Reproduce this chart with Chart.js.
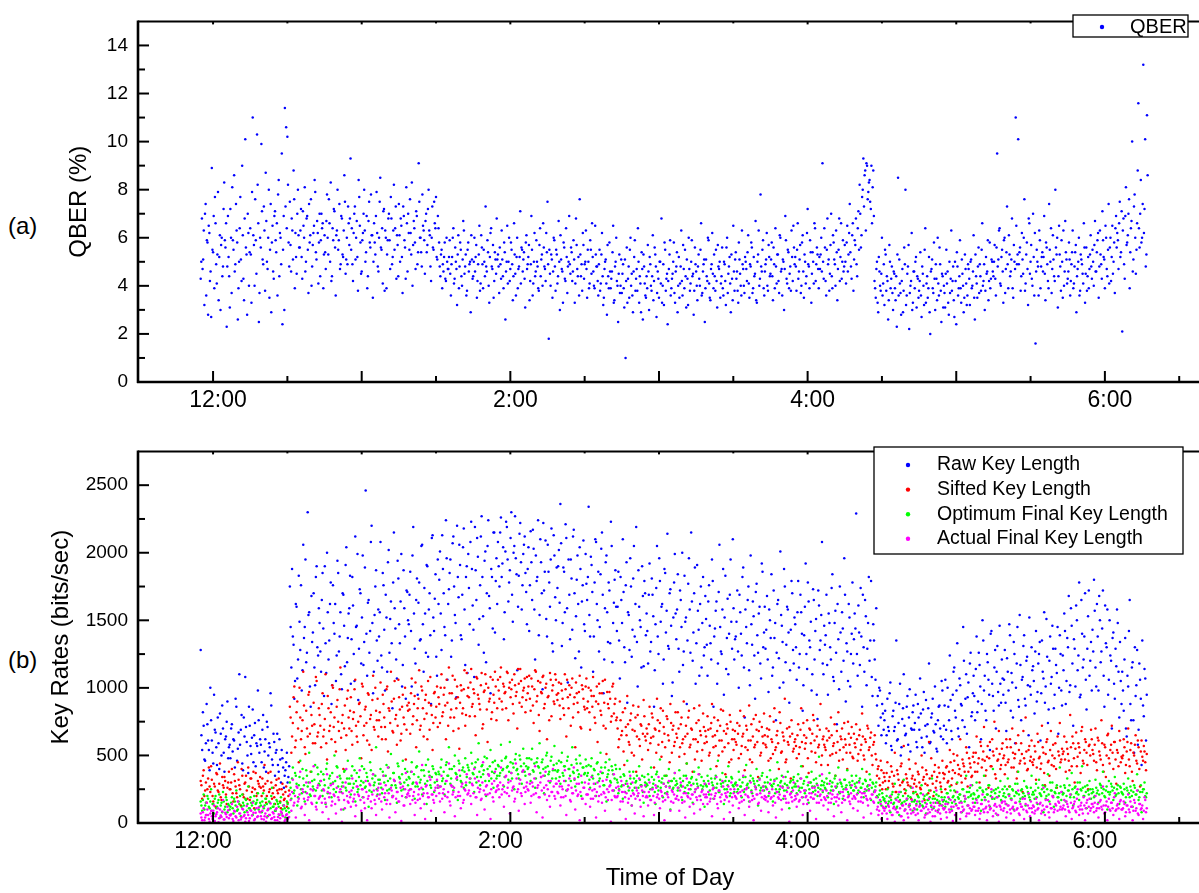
<!DOCTYPE html>
<html>
<head>
<meta charset="utf-8">
<title>QBER and key rates vs time of day</title>
<script src="https://cdn.jsdelivr.net/npm/chart.js@4/dist/chart.umd.min.js"></script>
<style>
  html, body { margin: 0; padding: 0; background: #fff; overflow: hidden; width: 1199px; height: 893px; }
  canvas { position: absolute; left: 0; }
  #chart-a { top: 0; }
  #chart-b { top: 430px; }
  .panel-tag { position: absolute; left: 8px; font: 24px 'Liberation Sans', Arial, sans-serif; line-height: 24px; color: #000; }
</style>
</head>
<body>
<div class="panel-tag" style="top:214px">(a)</div>
<div class="panel-tag" style="top:648px">(b)</div>
<canvas id="chart-a" width="1220" height="430"></canvas>
<canvas id="chart-b" width="1220" height="463"></canvas>

<script>
// time axis: minutes after 12:00
const timeTickValues = [0, 120, 240, 360];
const timeTickLabels = ['12:00', '2:00', '4:00', '6:00'];
const hourMarks = [0, 60, 120, 180, 240, 300, 360];
const halfHourMarks = [30, 90, 150, 210, 270, 330, 390];

const qberTicks = [0, 2, 4, 6, 8, 10, 12, 14];
const qberMinorTicks = [1, 3, 5, 7, 9, 11, 13];
const rateTicks = [0, 500, 1000, 1500, 2000, 2500];
const rateMinorTicks = [250, 750, 1250, 1750, 2250];

// samples are taken at a fixed interval starting just before noon;
// the "B" lists are the readings taken half an interval later
const sampleStartMin = -5;
const qberStepMin = 0.5;
const keyStepMin = 0.6;

// QBER (%)
const qberValues = [
  4.3, 6.8, 5.1, 3.2, 7.4, 5.9, 2.8, 6.2, 4.6, 8.9, 5.4, 3.9, 6.6, 4.1, 7.9, 5.2, 3.0, 6.0, 4.8, 8.3,
  5.6, 2.3, 6.9, 4.4, 7.2, 3.7, 5.9, 8.6, 4.9, 6.3, 2.6, 5.0, 7.7, 4.2, 6.1, 3.4, 10.1, 5.3, 7.0, 4.0,
  6.4, 3.3, 11.0, 5.7, 7.6, 4.5, 8.2, 2.5, 6.0, 9.9, 5.1, 7.3, 3.8, 6.7, 4.7, 8.0, 5.5, 2.9, 6.5, 4.3,
  7.1, 5.4, 3.6, 8.4, 6.2, 4.9, 2.4, 6.9, 11.4, 10.6, 10.2, 5.8, 7.5, 4.6, 6.3, 8.8, 3.9, 5.2, 7.0, 6.1,
  5.6, 7.2, 4.3, 6.5, 8.1, 5.0, 6.9, 3.7, 5.8, 7.6, 4.8, 6.2, 8.4, 5.4, 6.7, 4.1, 7.0, 5.9, 6.4, 3.9,
  6.1, 4.7, 7.8, 5.3, 6.6, 8.3, 4.4, 5.9, 7.1, 3.6, 6.3, 5.5, 7.4, 4.9, 6.8, 5.2, 8.6, 4.5, 6.0, 7.3,
  5.7, 9.3, 6.4, 4.2, 7.0, 5.1, 6.7, 3.8, 7.7, 5.8, 4.6, 6.2, 8.0, 5.0, 6.9, 4.4, 7.5, 5.6, 6.1, 3.5,
  6.6, 5.3, 7.9, 4.8, 6.0, 8.5, 5.5, 4.1, 7.2, 6.3, 3.9, 5.9, 7.0, 4.7, 6.8, 5.2, 8.2, 6.4, 4.3, 5.7,
  7.4, 5.0, 6.5, 3.7, 6.9, 5.6, 8.1, 4.6, 6.2, 7.6, 5.3, 4.0, 6.7, 5.8, 7.1, 4.9, 9.1, 6.0, 5.4, 7.8,
  6.3, 4.5, 7.0, 5.7, 8.0, 6.1, 4.2, 7.3, 5.5, 6.6, 7.7, 5.1, 6.4, 4.8, 5.3, 3.9, 4.6, 5.8, 4.2, 5.0,
  4.7, 5.9, 3.6, 5.2, 6.4, 4.3, 5.0, 3.2, 6.1, 4.8, 5.5, 4.0, 6.7, 4.5, 5.3, 3.8, 5.8, 4.9, 2.9, 5.1,
  4.4, 6.0, 5.2, 3.5, 4.9, 6.5, 4.1, 5.6, 3.9, 5.0, 7.3, 4.6, 5.4, 3.3, 6.2, 4.8, 5.7, 4.2, 5.1, 6.8,
  5.3, 3.7, 4.9, 6.3, 4.4, 5.8, 2.6, 5.0, 4.1, 6.0, 4.7, 5.5, 3.4, 6.6, 4.5, 5.2, 3.9, 4.8, 7.1, 5.6,
  4.6, 5.4, 3.1, 6.1, 4.9, 5.7, 4.2, 6.9, 3.6, 5.0, 4.4, 5.9, 4.8, 3.8, 6.4, 5.1, 4.0, 5.6, 4.7, 6.2,
  7.5, 1.8, 4.5, 5.3, 3.5, 6.0, 4.8, 5.5, 4.1, 6.7, 3.0, 5.1, 4.6, 5.8, 4.3, 6.4, 3.7, 5.0, 4.9, 5.6,
  4.2, 5.9, 3.3, 6.8, 4.7, 5.2, 7.6, 4.4, 3.8, 5.7, 4.9, 6.3, 3.5, 5.0, 4.1, 5.5, 6.6, 4.6, 3.9, 5.3,
  4.8, 3.6, 5.5, 4.1, 6.2, 3.2, 4.7, 5.1, 2.8, 4.4, 5.8, 3.9, 4.6, 6.5, 3.4, 5.0, 4.2, 2.5, 5.3, 4.0,
  3.7, 4.9, 3.1, 1.0, 5.6, 4.3, 3.5, 6.0, 4.5, 2.9, 5.2, 3.8, 4.7, 6.4, 3.3, 4.1, 5.4, 2.6, 4.8, 3.6,
  4.4, 5.7, 3.0, 4.9, 3.8, 6.1, 4.2, 5.3, 2.7, 4.6, 3.5, 5.0, 6.8, 4.0, 3.2, 5.5, 4.3, 2.4, 4.7, 5.9,
  3.9, 4.5, 5.8, 3.3, 4.8, 2.9, 5.2, 4.1, 6.3, 3.6, 4.7, 5.5, 3.1, 4.3, 6.0, 3.8, 5.0, 4.4, 2.8, 5.6,
  4.6, 3.4, 5.3, 4.0, 6.6, 3.7, 4.9, 2.5, 5.1, 4.2, 5.9, 3.5, 4.7, 6.2, 3.9, 4.4, 5.5, 3.1, 4.8, 5.0,
  4.1, 5.6, 3.6, 4.9, 3.2, 6.0, 4.5, 5.2, 2.9, 4.3, 6.5, 3.8, 5.4, 4.6, 3.3, 5.1, 4.0, 6.3, 4.7, 3.7,
  5.0, 4.2, 6.1, 3.5, 4.8, 5.6, 3.9, 4.4, 6.7, 3.3, 5.3, 4.0, 7.8, 4.6, 5.9, 3.6, 4.9, 6.2, 3.8, 5.2,
  4.5, 5.8, 3.4, 4.9, 6.4, 4.1, 5.3, 3.7, 6.0, 4.7, 5.1, 3.0, 6.9, 4.3, 5.5, 3.9, 4.8, 6.3, 4.2, 5.6,
  5.2, 3.8, 6.6, 4.6, 5.7, 4.0, 6.1, 3.5, 5.0, 4.4, 7.2, 4.8, 5.9, 3.3, 5.4, 4.1, 6.4, 4.9, 5.3, 3.9,
  4.7, 6.0, 9.1, 4.3, 5.6, 3.6, 6.8, 5.1, 4.5, 7.0, 3.9, 5.8, 4.9, 6.3, 3.4, 5.5, 4.2, 6.6, 5.0, 4.6,
  5.7, 4.1, 6.5, 5.3, 7.4, 4.8, 6.1, 3.8, 5.9, 6.8, 4.4, 7.1, 8.2, 5.6, 7.7, 9.3, 8.6, 6.3, 9.0, 7.9,
  8.4, 7.2, 6.6, 8.8, 4.2, 3.5, 5.0, 2.9, 4.6, 3.8, 6.0, 4.1, 3.2, 5.3, 4.4, 2.6, 5.7, 3.9, 4.8, 3.0,
  4.5, 3.4, 2.3, 8.5, 5.1, 3.7, 4.2, 2.9, 5.6, 8.0, 3.6, 4.8, 2.2, 4.0, 6.2, 3.3, 4.6, 5.0, 3.1, 4.3,
  3.8, 5.4, 2.7, 4.5, 3.2, 6.4, 4.1, 3.5, 5.2, 2.0, 4.7, 3.9, 5.8, 3.0, 4.3, 6.0, 3.6, 4.9, 2.5, 4.4,
  4.0, 3.1, 5.5, 4.6, 2.8, 3.7, 6.3, 4.2, 3.4, 5.0, 2.4, 4.8, 3.9, 5.9, 3.3, 4.5, 2.9, 5.3, 4.1, 3.6,
  4.7, 3.2, 5.1, 4.0, 6.1, 2.6, 4.4, 3.5, 5.6, 4.9, 3.8, 6.6, 4.2, 3.0, 5.2, 4.6, 3.4, 5.8, 4.3, 5.0,
  4.4, 5.7, 3.6, 9.5, 5.1, 6.4, 4.0, 5.5, 3.3, 6.0, 4.7, 7.3, 3.9, 5.3, 4.6, 6.8, 3.5, 5.0, 11.0, 4.9,
  10.1, 5.4, 3.8, 6.2, 4.5, 7.6, 4.1, 5.8, 3.2, 6.6, 5.0, 4.3, 7.0, 3.6, 1.6, 5.5, 4.8, 6.3, 3.9, 5.2,
  4.6, 6.9, 3.4, 5.6, 4.2, 7.4, 5.0, 3.7, 6.1, 4.4, 8.0, 5.3, 3.1, 6.5, 4.8, 5.9, 3.5, 4.0, 6.7, 5.1,
  4.3, 5.8, 3.6, 4.9, 6.3, 4.1, 5.4, 2.9, 4.7, 6.0, 3.8, 5.1, 4.5, 6.6, 3.3, 5.6, 4.4, 3.9, 5.3, 4.8,
  5.5, 4.0, 6.7, 4.6, 5.9, 3.5, 6.3, 4.9, 7.1, 5.2, 3.9, 6.0, 4.4, 7.4, 5.6, 4.2, 6.5, 5.0, 3.7, 6.9,
  6.2, 4.7, 7.5, 5.4, 2.1, 6.8, 4.3, 8.1, 5.8, 7.0, 3.9, 6.4, 10.0, 5.1, 7.8, 4.5, 6.6, 11.6, 5.6, 8.4,
  6.0, 13.2, 7.2, 4.8, 11.1
];

const qberValuesB = [
  5.0, 4.7, 6.3, 7.0, 3.6, 5.8, 6.5, 4.2, 2.7, 5.5, 6.9, 7.7, 4.9, 5.3, 3.4, 6.1, 5.7, 4.4, 7.2, 5.9,
  6.6, 4.8, 5.2, 3.1, 6.0, 8.1, 5.5, 4.6, 7.4, 5.8, 3.9, 6.4, 5.1, 9.0, 4.3, 6.8, 5.6, 2.8, 6.2, 5.4,
  5.3, 7.9, 6.1, 4.0, 5.9, 10.3, 6.6, 3.7, 5.6, 7.1, 4.9, 6.3, 8.7, 5.0, 6.0, 3.5, 7.4, 5.8, 4.6, 6.9,
  5.9, 6.6, 7.8, 4.4, 6.0, 9.5, 5.5, 3.0, 7.3, 6.4, 8.2, 4.8, 5.7, 6.8, 5.1, 7.6, 6.2, 4.5, 8.0, 5.6,
  6.3, 5.2, 7.1, 6.0, 4.6, 6.8, 5.5, 7.4, 6.1, 4.0, 5.7, 6.5, 7.9, 5.1, 6.2, 5.8, 4.4, 7.0, 6.6, 5.3,
  5.4, 6.7, 6.0, 7.6, 5.0, 4.2, 6.4, 7.2, 5.6, 6.1, 8.0, 5.9, 4.7, 6.9, 5.3, 6.3, 7.5, 5.1, 4.9, 6.6,
  6.8, 5.5, 4.9, 6.2, 7.3, 6.0, 5.2, 8.4, 6.5, 4.5, 5.9, 7.0, 6.3, 5.4, 3.9, 6.7, 5.8, 7.8, 6.1, 5.0,
  5.8, 6.9, 6.2, 4.6, 7.5, 5.6, 6.4, 7.1, 3.8, 6.0, 5.3, 6.8, 5.9, 7.7, 4.9, 6.3, 5.5, 7.3, 6.1, 4.4,
  6.1, 6.8, 5.2, 7.3, 5.9, 4.3, 6.6, 7.0, 5.5, 6.2, 8.3, 5.7, 6.4, 4.7, 6.9, 5.4, 7.5, 6.0, 4.8, 6.5,
  5.9, 6.7, 5.4, 7.2, 6.3, 4.8, 6.0, 5.6, 7.5, 6.4, 5.2, 6.9, 5.8, 4.4, 5.5, 4.9, 5.2, 4.3, 6.0, 4.7,
  5.2, 4.5, 4.9, 6.0, 4.1, 5.6, 4.7, 5.3, 3.9, 5.8, 4.4, 5.1, 6.3, 4.8, 3.6, 5.5, 4.6, 5.0, 6.1, 4.3,
  5.0, 4.6, 5.7, 4.2, 5.3, 3.8, 6.1, 4.9, 5.5, 4.4, 4.8, 5.9, 4.0, 5.2, 6.4, 4.7, 3.5, 5.4, 4.5, 5.1,
  4.8, 5.6, 4.3, 5.1, 3.9, 5.4, 4.6, 6.5, 5.0, 4.2, 5.8, 4.9, 4.4, 5.3, 3.6, 6.0, 4.7, 5.2, 4.1, 5.5,
  5.1, 4.3, 5.8, 4.7, 5.2, 3.4, 4.9, 5.5, 4.1, 6.2, 4.6, 5.0, 3.9, 5.7, 4.4, 5.3, 6.6, 4.8, 4.2, 5.4,
  4.9, 5.5, 4.0, 5.1, 4.6, 5.9, 3.8, 5.3, 4.4, 5.0, 6.1, 4.7, 3.3, 5.6, 4.2, 5.2, 4.8, 6.9, 4.5, 5.4,
  4.6, 5.1, 4.1, 5.7, 4.4, 3.6, 5.3, 4.9, 6.2, 4.3, 5.0, 4.7, 5.5, 3.9, 5.9, 4.5, 5.2, 4.0, 6.5, 4.8,
  4.2, 4.9, 3.8, 5.3, 4.4, 3.5, 5.0, 4.1, 5.7, 3.9, 4.6, 4.3, 5.4, 3.3, 4.8, 6.0, 4.0, 4.5, 3.7, 5.1,
  4.5, 3.9, 5.1, 4.2, 3.3, 4.8, 5.5, 4.0, 3.6, 4.6, 5.9, 4.3, 3.8, 5.0, 4.4, 2.9, 4.7, 5.3, 4.1, 3.5,
  3.9, 4.6, 5.2, 4.0, 4.4, 3.4, 5.6, 4.8, 3.7, 4.3, 5.0, 4.1, 3.3, 4.9, 5.8, 3.8, 4.5, 4.2, 5.3, 3.6,
  4.3, 5.0, 3.7, 4.6, 5.4, 4.0, 3.5, 4.8, 4.2, 5.7, 3.9, 4.4, 5.1, 3.2, 4.7, 4.1, 5.9, 4.5, 3.8, 4.9,
  4.0, 4.8, 4.3, 5.5, 3.6, 4.6, 5.1, 3.9, 4.4, 6.0, 4.1, 3.4, 4.9, 4.5, 5.3, 3.8, 4.2, 5.7, 4.7, 3.5,
  4.4, 3.9, 5.0, 4.2, 5.6, 3.7, 4.8, 4.1, 5.3, 3.4, 4.6, 5.1, 4.3, 3.8, 5.8, 4.5, 3.6, 4.9, 4.0, 5.2,
  4.7, 5.4, 4.1, 4.9, 5.8, 3.7, 5.2, 4.5, 3.4, 5.0, 6.3, 4.3, 4.8, 5.5, 3.9, 4.6, 5.1, 4.0, 5.7, 4.4,
  5.1, 4.4, 5.6, 3.9, 4.8, 5.3, 4.2, 6.1, 4.6, 3.6, 5.0, 4.7, 5.9, 4.1, 5.4, 4.5, 3.8, 5.2, 6.5, 4.9,
  4.8, 5.5, 4.3, 5.1, 3.7, 5.8, 4.6, 5.3, 4.1, 6.2, 4.9, 3.9, 5.4, 4.5, 5.0, 6.6, 4.2, 5.6, 4.7, 5.2,
  5.3, 4.6, 5.0, 6.4, 4.2, 5.5, 4.9, 3.8, 5.7, 4.4, 6.1, 5.1, 4.0, 5.4, 4.7, 6.8, 5.2, 4.3, 5.9, 4.8,
  5.0, 5.8, 4.6, 6.2, 5.4, 4.3, 6.6, 5.1, 5.7, 4.9, 6.4, 5.5, 7.0, 6.1, 8.0, 7.3, 8.8, 9.1, 7.6, 8.3,
  7.5, 9.0, 8.1, 6.9, 3.9, 4.7, 3.3, 5.2, 4.0, 4.5, 3.6, 4.9, 5.5, 3.8, 4.2, 3.4, 5.0, 4.3, 3.7, 4.6,
  3.9, 4.4, 5.3, 3.6, 4.1, 2.8, 4.7, 3.8, 4.9, 3.2, 4.5, 5.7, 3.7, 4.2, 3.0, 4.6, 3.9, 5.2, 4.4, 3.5,
  4.2, 3.6, 4.8, 4.0, 5.5, 3.3, 4.4, 3.9, 2.9, 4.6, 5.1, 3.7, 4.3, 4.9, 3.4, 4.1, 5.6, 3.8, 4.5, 3.1,
  3.7, 4.5, 4.1, 3.3, 5.0, 4.3, 3.8, 4.8, 2.7, 4.2, 5.4, 3.6, 4.4, 3.9, 5.1, 4.0, 3.5, 4.7, 3.2, 4.9,
  4.3, 5.0, 3.9, 4.6, 3.5, 5.3, 4.1, 4.8, 3.7, 4.4, 5.5, 4.0, 4.9, 3.8, 4.5, 5.9, 4.2, 3.9, 5.1, 4.6,
  5.0, 4.3, 5.6, 4.8, 6.3, 4.1, 5.2, 4.6, 5.9, 3.7, 5.4, 4.9, 6.1, 4.4, 5.1, 3.9, 5.7, 4.7, 6.5, 5.3,
  4.9, 5.6, 4.4, 5.1, 6.0, 3.8, 5.3, 4.7, 6.8, 4.5, 5.7, 4.0, 5.2, 6.2, 4.6, 5.0, 3.6, 5.9, 4.8, 5.4,
  5.2, 4.5, 5.8, 4.9, 3.9, 5.5, 6.4, 4.7, 5.1, 4.2, 5.6, 6.0, 4.4, 5.3, 3.8, 5.0, 6.3, 4.6, 5.4, 4.1,
  4.6, 5.1, 4.2, 5.4, 3.9, 4.8, 5.7, 4.4, 5.0, 3.6, 5.3, 4.9, 4.1, 5.6, 4.5, 3.8, 5.2, 4.7, 6.1, 4.3,
  5.0, 5.7, 4.6, 5.4, 6.2, 4.8, 5.3, 4.3, 5.9, 5.1, 6.5, 4.7, 5.5, 4.1, 6.0, 5.2, 4.5, 5.8, 6.4, 5.6,
  5.9, 6.6, 5.2, 7.1, 6.3, 4.9, 6.9, 5.7, 6.1, 7.6, 5.4, 6.7, 4.6, 7.3, 6.0, 5.5, 8.8, 6.4, 7.0, 5.8,
  7.4, 6.2, 10.1, 5.3, 8.6
];

// key lengths (bits/sec)
const rawKey = [
  1280, 540, 720, 460, 880, 610, 390, 760, 520, 950, 670, 430, 590, 810, 500, 700, 380, 640, 900, 560,
  480, 730, 620, 410, 860, 550, 1100, 690, 440, 780, 1080, 600, 370, 720, 510, 840, 650, 420, 570, 760,
  620, 450, 800, 530, 380, 710, 590, 960, 470, 660, 350, 540, 430, 620, 300, 480, 260, 390, 520, 340,
  1750, 1150, 1380, 920, 1620, 1070, 1830, 1280, 980, 2060, 1450, 1190, 2300, 1560, 860, 1340, 1700, 1020, 1900, 1240,
  1480, 1120, 1850, 940, 1330, 2000, 1210, 1620, 880, 1760, 1400, 1050, 1940, 1270, 1560, 990, 1690, 1160, 2040, 1370,
  1590, 1030, 1820, 1250, 2120, 1460, 910, 1730, 1180, 1980, 1340, 2460, 1090, 1650, 1420, 2200, 960, 1540, 1870, 1200,
  1380, 2080, 1150, 1760, 980, 1520, 1930, 1260, 1640, 850, 2150, 1440, 1070, 1810, 1330, 1990, 1170, 1590, 920, 1710,
  1470, 1860, 1010, 2190, 1290, 1650, 950, 1780, 1360, 2060, 1120, 1550, 1910, 1230, 1700, 880, 2130, 1420, 1840, 1090,
  1620, 2010, 1280, 1880, 1450, 2240, 1060, 1730, 1950, 1350, 2120, 1540, 930, 1820, 2060, 1390, 1690, 2180, 1170, 1900,
  1990, 1470, 2230, 1610, 1080, 1870, 2110, 1320, 1760, 2270, 1530, 1940, 1190, 2050, 1680, 960, 1820, 2150, 1410, 1960,
  2080, 1750, 2260, 1920, 1360, 2010, 2190, 1640, 1870, 2300, 1490, 2050, 1960, 1130, 1830, 2220, 1580, 1990, 2120, 1710,
  1880, 1420, 2160, 1650, 2030, 1210, 1790, 2240, 1540, 1930, 990, 1720, 2090, 1380, 1860, 1600, 2180, 1270, 1980, 1500,
  1740, 2020, 2360, 1310, 1890, 1560, 2110, 1040, 1690, 1950, 1430, 2170, 1220, 1800, 1620, 2040, 1150, 1760, 1470, 1990,
  1650, 2340, 1380, 1910, 1120, 1780, 2080, 1500, 1270, 1840, 2150, 960, 1590, 1980, 1340, 1720, 2230, 1190, 1630, 1870,
  1420, 1860, 1070, 1650, 2100, 1300, 1760, 890, 1540, 1960, 1230, 1810, 1380, 2190, 1010, 1600, 1450, 1900, 1160, 1700,
  1550, 1180, 1920, 1340, 1690, 860, 1470, 2050, 1250, 1790, 1600, 1030, 1880, 1410, 2140, 1290, 1730, 940, 1520, 1990,
  1360, 1840, 1120, 1650, 2000, 1270, 1490, 880, 1770, 1580, 2150, 1200, 1700, 1030, 1910, 1430, 1620, 1150, 1820, 1300,
  1510, 1090, 1760, 1330, 1950, 860, 1440, 1640, 1180, 2060, 1270, 1580, 950, 1830, 1370, 1100, 1690, 1490, 2100, 1210,
  1380, 1720, 1000, 1560, 1240, 1890, 780, 1450, 1650, 1130, 1980, 1320, 1530, 920, 1770, 1260, 1600, 1070, 1860, 1410,
  1290, 1680, 970, 1500, 1840, 1150, 1370, 760, 1620, 1220, 2010, 1460, 1040, 1750, 1320, 1580, 890, 1430, 1700, 1180,
  1470, 1060, 1790, 1250, 1560, 830, 1390, 1920, 1140, 1640, 1300, 980, 1730, 1210, 1510, 770, 1610, 1350, 2080, 1100,
  1320, 1690, 950, 1480, 1210, 1840, 1050, 1570, 730, 1360, 1750, 1120, 1440, 1960, 900, 1270, 1620, 1010, 1400, 1180,
  1550, 2290, 1090, 1410, 1740, 860, 1300, 1650, 1020, 1480, 1200, 1790, 940, 1350, 1060, 870, 720, 980, 650, 810,
  760, 590, 920, 680, 1040, 540, 830, 710, 1350, 620, 880, 500, 770, 1100, 650, 860, 580, 990, 700, 820,
  690, 950, 560, 780, 1070, 630, 840, 520, 910, 730, 1180, 600, 810, 680, 1010, 550, 760, 870, 640, 980,
  720, 1060, 590, 860, 1240, 680, 950, 1150, 780, 1330, 640, 1020, 870, 1450, 710, 1100, 930, 560, 1260, 820,
  1090, 760, 1380, 900, 1170, 620, 1500, 980, 830, 1250, 1060, 540, 1420, 940, 1150, 700, 1310, 870, 1030, 1210,
  950, 1280, 680, 1120, 1470, 830, 1040, 1340, 590, 1180, 910, 1540, 760, 1080, 1390, 870, 1230, 650, 1010, 1300,
  1160, 810, 1420, 970, 1250, 610, 1350, 1070, 890, 1510, 740, 1200, 1030, 1460, 850, 1290, 1110, 660, 1390, 980,
  1240, 1550, 880, 1370, 1680, 1020, 1460, 720, 1290, 1610, 1130, 1780, 950, 1400, 1210, 1700, 840, 1530, 1090, 1340,
  1430, 1800, 1150, 1620, 980, 1500, 1270, 1720, 860, 1330, 1580, 1060, 1240, 700, 1410, 920, 1160, 1480, 780, 1050,
  1120, 830, 1370, 640, 1010, 1650, 760, 1190, 520, 940, 1280, 690, 1060, 430, 870, 1140, 610
];

const rawKeyB = [
  650, 820, 470, 590, 730, 540, 1000, 610, 440, 690, 560, 780, 400, 660, 870, 520, 620, 750, 480, 580,
  700, 530, 610, 920, 460, 670, 580, 800, 390, 640, 710, 500, 860, 570, 630, 450, 740, 590, 980, 520,
  580, 690, 410, 620, 750, 500, 560, 870, 430, 600, 520, 660, 380, 470, 540, 410, 350, 450, 300, 420,
  1450, 1880, 1320, 1050, 1600, 1210, 1490, 1760, 1130, 1370, 1950, 1260, 1540, 1010, 1680, 1410, 1150, 1820, 1300, 1590,
  1270, 1650, 1440, 1900, 1110, 1560, 1350, 1780, 1020, 1480, 1620, 1240, 1850, 1380, 1100, 1700, 1460, 1910, 1190, 1550,
  1830, 1360, 1610, 1050, 1450, 1990, 1290, 1700, 1520, 1170, 1890, 1400, 1630, 1260, 2080, 1480, 1120, 1750, 1350, 1580,
  1560, 1240, 1850, 1430, 1690, 1120, 2020, 1510, 1330, 1780, 1590, 1210, 1940, 1470, 1640, 1010, 1870, 1380, 1720, 1500,
  1690, 1420, 1980, 1550, 1180, 1810, 1630, 1350, 2050, 1470, 1740, 1260, 1900, 1580, 1390, 2110, 1520, 1660, 1230, 1950,
  1800, 1550, 2130, 1700, 1390, 1960, 1620, 1850, 1230, 2070, 1750, 1480, 2200, 1670, 1910, 1360, 2040, 1580, 1820, 1110,
  1740, 2080, 1880, 1430, 2190, 1650, 1970, 1510, 2120, 1820, 1260, 2010, 1700, 2240, 1590, 1880, 1440, 2150, 1790, 1620,
  1900, 2150, 1820, 2040, 1560, 2230, 1950, 1780, 2110, 1690, 2000, 2270, 1840, 1600, 2140, 1930, 1760, 2060, 1850, 1470,
  2040, 1760, 1930, 2170, 1580, 1980, 1820, 1390, 2100, 1700, 2220, 1860, 1510, 2060, 1780, 1950, 1330, 2130, 1670, 1890,
  1900, 1630, 2070, 1480, 1860, 2210, 1590, 1950, 1360, 1810, 2120, 1700, 1530, 1980, 1270, 1880, 1640, 2090, 1420, 1770,
  1820, 1540, 1970, 1710, 1380, 2100, 1620, 1860, 1450, 2030, 1690, 1210, 1930, 1560, 1780, 1330, 2050, 1480, 1800, 1600,
  1600, 1350, 1820, 1480, 1710, 1190, 1930, 1560, 1280, 1750, 1430, 2050, 1620, 1340, 1870, 1500, 1150, 1680, 1790, 1390,
  1420, 1690, 1270, 1810, 1530, 1130, 1740, 1380, 1960, 1490, 1620, 1210, 1850, 1570, 1310, 1700, 1460, 1040, 1780, 1550,
  1580, 1290, 1720, 1450, 1170, 1830, 1520, 1350, 1960, 1260, 1640, 1410, 1890, 1330, 1570, 1090, 1750, 1480, 1240, 1680,
  1320, 1640, 1460, 1210, 1790, 1380, 1570, 1030, 1710, 1450, 1250, 1880, 1520, 1140, 1660, 1400, 1950, 1290, 1590, 1360,
  1490, 1270, 1690, 1400, 1820, 1150, 1580, 1330, 1750, 1020, 1470, 1640, 1240, 1710, 1390, 1550, 1180, 1920, 1300, 1600,
  1430, 1210, 1580, 1370, 1090, 1720, 1480, 1260, 1650, 1000, 1540, 1340, 1880, 1190, 1600, 1410, 1130, 1790, 1280, 1520,
  1300, 1560, 1150, 1690, 1400, 1020, 1600, 1250, 1780, 1350, 1490, 1100, 1650, 1420, 950, 1720, 1280, 1540, 1180, 1460,
  1390, 1170, 1550, 1300, 1740, 1080, 1480, 1260, 1620, 990, 1410, 1560, 1200, 1690, 1330, 1050, 1520, 1250, 1780, 1360,
  1440, 1250, 1610, 1170, 1380, 1690, 1120, 1530, 1290, 1820, 1350, 1080, 1470, 1210, 1590, 940, 1000, 780, 880, 690,
  830, 650, 710, 960, 570, 790, 680, 890, 610, 740, 1030, 560, 850, 720, 660, 940, 780, 530, 690, 870,
  740, 600, 880, 690, 810, 560, 970, 720, 640, 850, 590, 780, 920, 670, 730, 530, 860, 700, 1050, 620,
  870, 690, 1000, 760, 910, 620, 1120, 830, 980, 700, 1070, 880, 760, 1200, 920, 660, 1040, 1180, 790, 960,
  940, 1140, 820, 1260, 1010, 880, 1350, 1090, 760, 1190, 950, 1400, 1030, 830, 1280, 1120, 970, 1460, 890, 1070,
  1060, 890, 1220, 980, 1390, 1110, 780, 1250, 1000, 1450, 860, 1170, 1060, 1310, 920, 1200, 1020, 1520, 950, 1130,
  1050, 1270, 900, 1180, 1340, 960, 1120, 1560, 1010, 1230, 840, 1380, 1080, 1290, 950, 1170, 1450, 1000, 1250, 870,
  1130, 1420, 1050, 1300, 970, 1590, 1180, 1360, 1010, 1500, 1240, 930, 1650, 1150, 1380, 1060, 1290, 1720, 1200, 980,
  1270, 1570, 1010, 1380, 1680, 1190, 1440, 1090, 1610, 1300, 950, 1500, 1200, 1370, 1030, 1290, 1580, 1120, 1340, 880,
  980, 1210, 700, 1090, 1420, 880, 1150, 760, 1300, 1020, 580, 1180, 920, 1350, 790, 1070, 950
];

const siftedKey = [
  310, 180, 390, 240, 150, 330, 270, 420, 200, 290, 120, 360, 230, 440, 170, 280, 340, 210, 260, 380,
  250, 400, 160, 310, 220, 450, 280, 130, 350, 190, 300, 240, 410, 170, 330, 260, 110, 370, 220, 290,
  340, 200, 270, 430, 150, 310, 230, 380, 180, 260, 140, 320, 220, 250, 110, 290, 170, 230, 120, 200,
  860, 520, 740, 1010, 610, 900, 450, 780, 680, 1120, 560, 830, 640, 970, 380, 720, 890, 590, 1050, 670,
  800, 560, 960, 690, 1100, 470, 850, 720, 620, 1000, 780, 530, 910, 680, 1150, 740, 400, 870, 650, 980,
  700, 930, 580, 820, 1060, 640, 750, 890, 480, 1010, 720, 860, 610, 950, 770, 540, 1090, 690, 830, 920,
  760, 1040, 620, 880, 710, 990, 530, 830, 1120, 680, 920, 770, 580, 1060, 840, 660, 950, 730, 470, 870,
  890, 660, 1070, 790, 940, 560, 850, 1130, 720, 980, 640, 910, 810, 1050, 690, 870, 540, 960, 780, 1010,
  930, 740, 1100, 820, 1000, 620, 890, 1150, 780, 960, 680, 1060, 850, 930, 550, 1020, 810, 990, 720, 1110,
  1000, 790, 1140, 880, 960, 650, 1070, 920, 840, 1110, 730, 980, 1030, 600, 900, 1080, 820, 950, 1120, 760,
  1060, 920, 1150, 840, 1010, 970, 1120, 760, 1040, 990, 880, 1100, 940, 700, 1030, 1140, 860, 980, 1070, 910,
  960, 1090, 830, 1010, 740, 1130, 900, 1050, 680, 970, 1080, 850, 1000, 620, 940, 1110, 790, 1020, 880, 1060,
  910, 1040, 770, 980, 850, 1100, 640, 930, 1020, 720, 1070, 880, 560, 960, 820, 1090, 700, 990, 860, 1010,
  850, 1000, 690, 940, 1080, 780, 900, 600, 1030, 830, 960, 720, 1060, 510, 880, 970, 750, 1010, 810, 920,
  780, 560, 900, 650, 820, 430, 710, 940, 600, 760, 520, 870, 680, 380, 800, 620, 730, 470, 910, 640,
  700, 540, 860, 630, 780, 410, 690, 920, 580, 740, 490, 830, 660, 350, 770, 610, 880, 520, 720, 600,
  660, 820, 490, 730, 590, 900, 640, 440, 780, 560, 700, 380, 850, 620, 530, 760, 680, 460, 810, 590,
  640, 790, 500, 700, 880, 560, 650, 420, 760, 610, 840, 530, 680, 360, 730, 590, 800, 470, 690, 620,
  600, 740, 480, 830, 570, 660, 390, 720, 540, 870, 610, 450, 770, 580, 690, 340, 750, 520, 640, 810,
  580, 700, 460, 790, 620, 510, 850, 560, 680, 400, 740, 530, 640, 920, 470, 600, 710, 330, 660, 550,
  620, 480, 730, 560, 850, 420, 650, 590, 760, 370, 690, 530, 800, 610, 450, 720, 580, 880, 500, 640,
  560, 700, 430, 630, 780, 510, 590, 350, 680, 820, 540, 620, 470, 740, 580, 400, 660, 520, 710, 480,
  590, 730, 460, 650, 540, 810, 500, 620, 380, 700, 560, 670, 430, 600, 510, 350, 420, 280, 390, 300,
  340, 250, 450, 310, 190, 380, 270, 520, 230, 360, 160, 420, 300, 570, 220, 330, 280, 400, 180, 350,
  290, 440, 210, 360, 260, 500, 320, 170, 390, 280, 600, 240, 350, 200, 430, 310, 150, 370, 270, 460,
  330, 250, 420, 310, 540, 280, 390, 460, 230, 500, 360, 620, 300, 440, 380, 560, 270, 480, 410, 350,
  520, 380, 640, 440, 300, 570, 470, 710, 350, 490, 260, 600, 420, 530, 750, 330, 460, 680, 400, 550,
  480, 360, 620, 450, 270, 560, 700, 410, 510, 330, 650, 440, 590, 230, 480, 780, 390, 540, 460, 610,
  430, 570, 320, 660, 480, 400, 720, 520, 280, 600, 450, 350, 680, 500, 420, 590, 260, 530, 740, 470,
  510, 640, 380, 550, 460, 800, 420, 590, 300, 670, 490, 560, 370, 710, 440, 620, 520, 250, 580, 690,
  540, 460, 700, 390, 610, 500, 760, 430, 580, 340, 650, 480, 540, 720, 400, 600, 290, 520, 680, 450,
  480, 620, 370, 530, 700, 420, 590, 310, 500, 650, 440, 560, 270, 610, 460, 530, 390
];

const siftedKeyB = [
  280, 350, 200, 300, 250, 410, 230, 320, 160, 270, 370, 240, 290, 190, 340, 260, 310, 140, 300, 250,
  300, 220, 360, 270, 190, 320, 250, 400, 210, 290, 350, 180, 270, 330, 230, 380, 250, 200, 310, 270,
  260, 330, 240, 290, 200, 370, 250, 300, 220, 190, 280, 240, 330, 160, 250, 210, 180, 270, 150, 240,
  780, 640, 930, 560, 820, 700, 1000, 620, 760, 870, 510, 700, 950, 660, 800, 590, 730, 1080, 640, 850,
  720, 880, 640, 770, 590, 940, 680, 820, 1020, 710, 600, 860, 750, 990, 630, 800, 700, 540, 920, 780,
  830, 680, 770, 990, 720, 600, 880, 790, 1030, 650, 840, 740, 960, 580, 800, 910, 710, 1000, 760, 640,
  820, 710, 950, 780, 620, 1010, 850, 740, 900, 670, 1050, 800, 720, 930, 610, 860, 780, 1000, 690, 830,
  840, 960, 730, 880, 1040, 760, 920, 690, 1010, 850, 770, 950, 620, 890, 1080, 800, 740, 970, 860, 710,
  880, 1000, 790, 950, 870, 1060, 720, 960, 840, 1090, 780, 920, 1010, 700, 890, 980, 850, 1130, 800, 940,
  930, 1040, 860, 990, 790, 1080, 950, 880, 1020, 700, 970, 1100, 840, 1000, 920, 770, 1060, 890, 1010, 850,
  980, 1080, 900, 1030, 960, 850, 1110, 1000, 930, 1060, 810, 1020, 970, 1140, 890, 1050, 930, 1000, 820, 1080,
  1010, 920, 1070, 870, 990, 1120, 940, 800, 1040, 960, 1090, 880, 1030, 930, 760, 1060, 980, 900, 1100, 950,
  960, 870, 1030, 920, 800, 990, 1060, 850, 950, 1000, 780, 930, 1040, 890, 970, 710, 1020, 920, 840, 1070,
  900, 820, 980, 860, 940, 740, 1010, 880, 960, 800, 1050, 890, 700, 970, 850, 920, 790, 1030, 880, 760,
  700, 620, 760, 680, 530, 850, 650, 730, 580, 810, 690, 500, 780, 640, 860, 570, 720, 660, 790, 610,
  660, 730, 590, 810, 640, 700, 520, 760, 680, 850, 600, 710, 560, 790, 650, 450, 740, 690, 570, 820,
  630, 700, 560, 780, 620, 510, 720, 660, 830, 580, 690, 620, 470, 740, 600, 870, 650, 540, 710, 680,
  600, 690, 520, 740, 640, 780, 570, 680, 500, 720, 610, 830, 560, 660, 700, 450, 750, 620, 540, 680,
  580, 660, 720, 510, 640, 790, 560, 690, 610, 470, 730, 640, 560, 800, 600, 680, 500, 710, 590, 650,
  560, 640, 690, 480, 600, 750, 540, 650, 590, 820, 520, 670, 610, 450, 700, 580, 640, 760, 530, 600,
  570, 650, 510, 690, 600, 740, 550, 630, 480, 700, 590, 660, 760, 520, 640, 560, 690, 430, 620, 580,
  540, 610, 680, 500, 650, 570, 730, 520, 600, 460, 640, 700, 560, 620, 520, 750, 580, 630, 490, 660,
  560, 620, 510, 690, 580, 640, 470, 600, 720, 540, 630, 500, 580, 650, 470, 400, 330, 460, 250, 370,
  310, 370, 260, 340, 420, 290, 350, 230, 390, 320, 280, 440, 310, 250, 360, 300, 470, 270, 330, 230,
  320, 270, 380, 300, 250, 410, 340, 290, 360, 220, 330, 480, 290, 380, 260, 340, 410, 300, 230, 370,
  360, 410, 300, 380, 450, 330, 510, 370, 290, 430, 400, 350, 470, 420, 330, 520, 380, 440, 340, 490,
  450, 520, 380, 480, 600, 410, 530, 460, 390, 570, 480, 420, 620, 500, 360, 550, 470, 510, 430, 590,
  500, 430, 560, 470, 620, 410, 520, 480, 590, 380, 540, 460, 510, 680, 440, 530, 400, 570, 490, 450,
  470, 530, 410, 600, 490, 440, 560, 370, 510, 620, 460, 540, 430, 580, 480, 400, 640, 500, 450, 550,
  530, 470, 600, 510, 390, 560, 640, 480, 550, 420, 590, 520, 680, 460, 540, 600, 430, 570, 500, 620,
  510, 580, 450, 630, 530, 470, 590, 380, 560, 500, 660, 440, 580, 520, 600, 470, 540, 420, 610, 490,
  500, 560, 430, 600, 470, 540, 380, 520, 580, 460, 610, 400, 530, 490, 570, 450, 510
];

const optimumKey = [
  160, 90, 210, 130, 60, 180, 110, 250, 140, 70, 200, 120, 170, 40, 150, 230, 100, 190, 80, 130,
  120, 190, 70, 160, 240, 100, 140, 50, 210, 130, 180, 90, 270, 110, 150, 60, 200, 140, 170, 100,
  150, 80, 220, 130, 180, 50, 160, 110, 260, 120, 90, 170, 140, 60, 190, 100, 130, 40, 160, 110,
  300, 180, 410, 240, 350, 130, 280, 460, 220, 330, 160, 390, 270, 520, 200, 310, 250, 430, 150, 360,
  280, 380, 200, 320, 140, 440, 260, 350, 190, 300, 500, 230, 410, 170, 330, 270, 100, 390, 240, 460,
  330, 210, 420, 290, 160, 370, 250, 480, 310, 190, 400, 270, 340, 120, 450, 230, 360, 300, 560, 210,
  290, 400, 220, 350, 170, 430, 310, 250, 510, 200, 370, 280, 150, 420, 330, 240, 460, 300, 190, 380,
  340, 250, 450, 300, 180, 410, 270, 530, 320, 210, 390, 290, 140, 470, 350, 260, 420, 230, 370, 310,
  380, 270, 470, 330, 210, 430, 350, 560, 290, 400, 240, 500, 360, 170, 440, 310, 390, 260, 480, 340,
  410, 300, 520, 370, 230, 450, 340, 590, 280, 420, 360, 490, 200, 400, 310, 540, 380, 260, 460, 330,
  430, 350, 580, 390, 270, 480, 410, 320, 600, 370, 440, 250, 510, 400, 330, 470, 290, 550, 380, 420,
  400, 480, 310, 550, 380, 260, 450, 420, 590, 340, 470, 220, 410, 520, 360, 300, 490, 390, 570, 330,
  380, 460, 290, 520, 350, 420, 240, 490, 400, 310, 560, 370, 270, 440, 340, 500, 200, 410, 360, 470,
  350, 430, 260, 480, 330, 390, 200, 450, 310, 520, 370, 280, 410, 160, 360, 470, 300, 390, 240, 430,
  320, 220, 400, 270, 180, 350, 290, 460, 240, 330, 130, 380, 260, 310, 200, 420, 280, 350, 150, 300,
  290, 360, 200, 410, 260, 320, 140, 380, 240, 470, 300, 190, 350, 270, 230, 400, 100, 310, 260, 370,
  310, 240, 390, 280, 170, 350, 260, 440, 220, 300, 330, 150, 380, 250, 290, 410, 200, 340, 270, 120,
  280, 350, 210, 400, 300, 180, 330, 260, 460, 230, 290, 370, 140, 310, 250, 420, 200, 340, 280, 230,
  300, 230, 380, 270, 190, 340, 250, 430, 290, 160, 350, 220, 310, 270, 400, 130, 330, 260, 370, 240,
  270, 340, 200, 390, 280, 160, 320, 250, 450, 230, 300, 350, 180, 290, 240, 380, 110, 310, 260, 340,
  290, 220, 360, 260, 420, 190, 310, 240, 340, 150, 300, 380, 230, 270, 330, 200, 490, 250, 310, 280,
  260, 330, 190, 370, 240, 300, 140, 350, 270, 410, 220, 290, 180, 320, 260, 390, 210, 280, 350, 240,
  290, 350, 220, 310, 260, 400, 190, 320, 240, 280, 360, 170, 300, 230, 270, 200, 150, 240, 130, 190,
  180, 120, 250, 160, 80, 210, 140, 290, 110, 190, 60, 230, 150, 320, 100, 170, 200, 130, 260, 90,
  160, 230, 100, 190, 140, 280, 120, 200, 70, 170, 240, 150, 330, 110, 180, 210, 90, 160, 250, 130,
  170, 120, 220, 150, 270, 100, 190, 240, 140, 300, 180, 210, 80, 250, 160, 350, 130, 230, 200, 280,
  220, 150, 300, 190, 260, 90, 240, 350, 170, 210, 280, 120, 230, 400, 180, 250, 60, 200, 310, 160,
  200, 270, 140, 330, 210, 180, 250, 100, 290, 220, 380, 160, 240, 190, 310, 130, 260, 210, 170, 350,
  230, 180, 290, 140, 320, 210, 250, 80, 270, 200, 360, 160, 240, 300, 120, 220, 280, 190, 410, 170,
  210, 280, 160, 330, 240, 190, 370, 130, 260, 220, 300, 170, 250, 420, 200, 270, 110, 240, 310, 180,
  250, 190, 320, 220, 150, 290, 260, 380, 200, 240, 100, 310, 230, 270, 170, 340, 210, 280, 140, 260,
  220, 290, 150, 260, 330, 190, 240, 120, 280, 210, 360, 170, 230, 80, 250, 300, 190
];

const optimumKeyB = [
  130, 170, 100, 150, 200, 120, 160, 90, 140, 180, 110, 150, 210, 130, 80, 160, 120, 170, 140, 100,
  150, 110, 180, 130, 90, 160, 200, 120, 150, 80, 170, 140, 110, 190, 130, 160, 100, 150, 220, 120,
  130, 160, 110, 180, 140, 100, 150, 200, 120, 140, 90, 160, 120, 150, 70, 130, 110, 90, 140, 80,
  260, 330, 220, 370, 290, 190, 340, 250, 400, 280, 230, 350, 300, 210, 380, 270, 320, 240, 410, 290,
  310, 240, 360, 280, 400, 220, 330, 290, 370, 250, 310, 420, 270, 350, 230, 300, 380, 260, 330, 290,
  290, 350, 260, 390, 310, 230, 340, 280, 420, 300, 260, 370, 310, 240, 390, 330, 280, 350, 250, 320,
  320, 260, 380, 300, 350, 240, 410, 330, 280, 370, 310, 260, 440, 340, 290, 360, 250, 400, 320, 280,
  330, 380, 290, 360, 270, 420, 340, 300, 390, 250, 350, 430, 310, 380, 280, 340, 400, 300, 360, 260,
  360, 410, 310, 380, 290, 450, 350, 400, 330, 270, 420, 370, 320, 460, 350, 300, 410, 380, 280, 430,
  390, 330, 440, 360, 410, 300, 470, 380, 340, 430, 390, 310, 480, 360, 420, 330, 450, 370, 400, 350,
  420, 370, 460, 400, 340, 490, 420, 380, 450, 330, 410, 470, 390, 360, 500, 420, 380, 440, 350, 480,
  410, 360, 470, 390, 440, 330, 480, 410, 370, 450, 400, 350, 500, 420, 380, 460, 330, 430, 390, 440,
  390, 340, 450, 370, 420, 310, 460, 400, 350, 430, 380, 320, 470, 390, 360, 440, 300, 410, 370, 420,
  370, 320, 420, 350, 400, 290, 440, 360, 330, 410, 370, 280, 450, 340, 390, 310, 420, 360, 330, 400,
  300, 250, 340, 280, 360, 230, 310, 270, 380, 290, 240, 330, 300, 350, 260, 320, 280, 230, 340, 270,
  280, 320, 250, 340, 290, 230, 360, 270, 310, 260, 330, 290, 220, 350, 300, 270, 310, 250, 330, 280,
  290, 260, 330, 270, 310, 230, 350, 280, 300, 250, 340, 290, 230, 320, 270, 360, 280, 250, 310, 290,
  270, 310, 240, 330, 280, 260, 350, 290, 230, 320, 270, 300, 250, 340, 280, 310, 220, 330, 270, 290,
  280, 250, 320, 270, 300, 230, 340, 280, 260, 310, 240, 330, 290, 260, 310, 280, 240, 350, 270, 300,
  260, 300, 230, 320, 270, 290, 220, 330, 280, 250, 310, 270, 240, 340, 280, 260, 300, 230, 320, 270,
  270, 310, 240, 330, 260, 290, 220, 340, 280, 250, 300, 270, 320, 240, 290, 260, 350, 280, 230, 300,
  250, 290, 220, 310, 270, 240, 330, 260, 290, 230, 300, 270, 250, 320, 280, 230, 300, 260, 310, 240,
  270, 300, 240, 330, 260, 290, 230, 310, 270, 250, 320, 260, 290, 240, 300, 190, 210, 160, 220, 170,
  160, 200, 140, 190, 170, 230, 150, 180, 120, 210, 170, 140, 200, 160, 240, 180, 130, 190, 160, 220,
  170, 140, 200, 160, 220, 130, 180, 150, 210, 170, 190, 120, 180, 230, 150, 170, 200, 140, 190, 160,
  190, 160, 220, 180, 240, 150, 200, 170, 230, 190, 210, 160, 250, 200, 180, 230, 190, 260, 210, 180,
  210, 180, 240, 200, 260, 170, 230, 190, 250, 210, 280, 200, 180, 240, 220, 190, 260, 230, 170, 250,
  220, 190, 250, 210, 270, 180, 240, 200, 230, 290, 210, 180, 250, 220, 200, 270, 230, 190, 260, 210,
  210, 240, 190, 260, 220, 200, 280, 230, 180, 250, 210, 300, 240, 200, 230, 260, 190, 220, 270, 230,
  220, 260, 200, 240, 280, 210, 250, 190, 270, 230, 210, 300, 240, 260, 200, 230, 280, 210, 250, 220,
  230, 200, 260, 240, 210, 280, 220, 250, 190, 270, 230, 210, 290, 240, 260, 200, 250, 220, 270, 230,
  210, 250, 190, 240, 220, 270, 200, 230, 260, 210, 240, 190, 280, 230, 250, 200, 220
];

const actualKey = [
  70, 20, 110, 40, 150, 60, 10, 90, 30, 130, 50, 80, 5, 100, 45, 170, 25, 65, 120, 35,
  55, 140, 15, 85, 40, 160, 70, 25, 105, 50, 10, 125, 60, 35, 90, 150, 20, 75, 45, 115,
  80, 30, 120, 50, 10, 95, 60, 145, 35, 70, 20, 110, 45, 5, 85, 55, 130, 25, 65, 40,
  210, 90, 320, 150, 40, 260, 180, 380, 120, 230, 60, 300, 170, 20, 250, 140, 420, 200, 100, 280,
  190, 310, 80, 240, 150, 360, 30, 220, 130, 290, 200, 70, 340, 170, 250, 10, 270, 110, 400, 160,
  230, 120, 330, 180, 50, 270, 210, 390, 90, 250, 150, 310, 20, 200, 280, 110, 360, 170, 60, 240,
  180, 290, 100, 350, 220, 140, 410, 40, 260, 190, 320, 80, 230, 160, 300, 15, 270, 130, 370, 210,
  240, 140, 380, 200, 60, 300, 170, 250, 110, 430, 220, 30, 280, 190, 340, 90, 210, 150, 260, 320,
  260, 160, 350, 220, 80, 310, 190, 440, 130, 270, 230, 50, 330, 200, 390, 110, 290, 170, 240, 360,
  220, 330, 140, 280, 400, 190, 60, 310, 250, 180, 450, 100, 270, 210, 350, 30, 290, 160, 380, 240,
  280, 190, 410, 250, 120, 340, 220, 300, 70, 370, 260, 160, 440, 230, 90, 320, 200, 390, 140, 270,
  250, 360, 150, 300, 210, 420, 80, 280, 190, 340, 40, 260, 380, 170, 310, 120, 230, 400, 200, 290,
  230, 310, 130, 270, 190, 390, 60, 250, 330, 160, 220, 410, 100, 290, 210, 20, 350, 180, 260, 140,
  210, 290, 120, 340, 180, 250, 40, 300, 200, 380, 150, 230, 90, 320, 170, 270, 10, 240, 360, 190,
  190, 270, 100, 310, 160, 230, 30, 290, 180, 350, 130, 220, 70, 260, 200, 330, 120, 240, 50, 280,
  200, 130, 300, 170, 250, 60, 280, 190, 340, 110, 230, 160, 20, 270, 210, 310, 90, 240, 150, 370,
  180, 260, 90, 300, 150, 220, 40, 330, 190, 120, 280, 210, 70, 250, 170, 360, 100, 230, 140, 290,
  210, 140, 290, 180, 50, 260, 200, 340, 110, 240, 160, 310, 30, 220, 190, 270, 80, 300, 130, 250,
  190, 280, 110, 230, 160, 350, 60, 250, 200, 120, 300, 170, 20, 270, 210, 140, 320, 90, 240, 180,
  170, 250, 80, 290, 190, 130, 310, 40, 230, 180, 270, 100, 340, 200, 150, 260, 10, 220, 160, 300,
  200, 120, 270, 170, 330, 60, 240, 190, 140, 300, 90, 220, 180, 260, 30, 280, 150, 210, 360, 130,
  180, 240, 100, 290, 150, 210, 50, 270, 190, 130, 320, 80, 230, 170, 250, 20, 200, 140, 280, 110,
  190, 260, 90, 300, 160, 220, 40, 250, 180, 130, 280, 70, 210, 150, 240, 100, 60, 170, 30, 120,
  90, 150, 30, 120, 200, 60, 110, 10, 170, 80, 230, 50, 130, 20, 100, 180, 40, 140, 70, 260,
  110, 60, 160, 20, 130, 90, 210, 40, 120, 70, 180, 10, 100, 150, 50, 240, 80, 130, 30, 170,
  100, 140, 40, 190, 80, 120, 15, 160, 60, 230, 110, 30, 150, 90, 200, 50, 130, 70, 280, 100,
  120, 60, 170, 90, 30, 140, 210, 80, 110, 20, 160, 100, 250, 50, 130, 70, 190, 10, 120, 150,
  90, 160, 40, 130, 200, 70, 110, 20, 150, 100, 240, 60, 120, 180, 30, 140, 80, 220, 50, 110,
  130, 70, 180, 100, 20, 150, 90, 260, 60, 120, 170, 40, 110, 200, 80, 140, 10, 160, 100, 230,
  110, 170, 50, 140, 90, 210, 30, 120, 160, 80, 250, 60, 130, 100, 190, 20, 150, 70, 180, 110,
  140, 80, 200, 110, 40, 160, 120, 270, 70, 130, 20, 180, 90, 150, 60, 220, 100, 140, 30, 170,
  100, 160, 50, 130, 210, 80, 120, 20, 170, 90, 240, 60, 140, 110, 30, 190, 80
];

const actualKeyB = [
  40, 80, 20, 60, 100, 30, 70, 50, 90, 15, 65, 110, 35, 55, 85, 25, 75, 45, 95, 60,
  65, 30, 90, 50, 120, 20, 70, 40, 100, 60, 35, 80, 15, 95, 55, 75, 30, 110, 50, 85,
  50, 90, 25, 70, 40, 105, 60, 30, 80, 45, 100, 20, 65, 35, 75, 50, 15, 60, 30, 45,
  170, 230, 130, 200, 270, 160, 210, 110, 250, 180, 140, 220, 190, 300, 150, 240, 200, 120, 260, 180,
  200, 150, 250, 180, 120, 230, 190, 280, 160, 210, 140, 260, 190, 230, 100, 220, 170, 300, 200, 150,
  190, 240, 160, 210, 130, 270, 200, 170, 250, 190, 110, 230, 180, 290, 160, 210, 240, 140, 200, 260,
  210, 160, 250, 190, 280, 170, 220, 140, 240, 200, 310, 180, 230, 160, 260, 200, 130, 250, 190, 220,
  200, 250, 170, 230, 150, 290, 210, 180, 260, 200, 140, 270, 220, 190, 320, 210, 170, 240, 200, 280,
  220, 270, 180, 250, 200, 310, 230, 160, 280, 210, 260, 190, 340, 230, 200, 270, 150, 250, 300, 210,
  240, 200, 290, 220, 330, 190, 260, 230, 170, 300, 240, 210, 280, 360, 220, 250, 190, 310, 230, 270,
  250, 300, 210, 280, 230, 350, 260, 200, 310, 240, 270, 180, 330, 250, 290, 220, 380, 260, 230, 300,
  240, 290, 200, 270, 330, 220, 260, 190, 300, 240, 350, 210, 280, 250, 200, 310, 230, 270, 180, 290,
  220, 270, 190, 250, 310, 200, 240, 280, 170, 260, 220, 330, 240, 200, 290, 230, 180, 260, 300, 210,
  210, 250, 180, 240, 290, 200, 230, 160, 270, 210, 310, 220, 190, 250, 230, 280, 170, 240, 200, 260,
  200, 240, 160, 230, 280, 190, 220, 150, 260, 200, 300, 210, 180, 240, 220, 170, 270, 200, 230, 190,
  190, 230, 170, 250, 200, 150, 260, 210, 180, 240, 200, 290, 170, 220, 190, 260, 160, 230, 210, 180,
  200, 170, 240, 190, 270, 160, 220, 200, 250, 180, 210, 140, 230, 190, 260, 200, 170, 240, 210, 190,
  190, 230, 160, 210, 250, 180, 220, 140, 240, 190, 210, 270, 170, 200, 230, 160, 250, 190, 220, 200,
  180, 220, 150, 200, 240, 170, 210, 260, 190, 160, 230, 200, 180, 250, 210, 150, 220, 190, 270, 200,
  190, 160, 220, 180, 250, 200, 150, 230, 190, 210, 170, 260, 200, 180, 230, 150, 210, 190, 240, 170,
  180, 210, 160, 230, 190, 140, 240, 200, 170, 220, 190, 260, 180, 210, 150, 230, 200, 170, 240, 190,
  170, 200, 150, 220, 180, 240, 190, 160, 210, 180, 230, 150, 200, 170, 250, 190, 160, 220, 180, 200,
  180, 210, 160, 230, 190, 150, 220, 200, 170, 240, 180, 210, 160, 230, 190, 120, 90, 140, 70, 110,
  110, 70, 130, 90, 150, 60, 120, 100, 80, 160, 110, 50, 130, 90, 140, 70, 120, 100, 170, 80,
  100, 130, 70, 120, 90, 160, 110, 60, 140, 100, 80, 130, 50, 120, 90, 150, 100, 70, 130, 110,
  110, 80, 140, 100, 170, 90, 120, 60, 130, 110, 150, 80, 120, 100, 180, 70, 130, 110, 90, 150,
  120, 90, 150, 110, 70, 140, 100, 170, 120, 80, 130, 110, 190, 90, 140, 120, 60, 130, 100, 160,
  110, 140, 80, 130, 100, 170, 120, 90, 150, 110, 70, 140, 120, 100, 180, 90, 130, 110, 160, 80,
  120, 90, 150, 110, 140, 70, 130, 100, 170, 120, 80, 140, 110, 190, 100, 130, 90, 150, 120, 100,
  130, 100, 160, 120, 80, 150, 110, 140, 90, 180, 120, 100, 150, 70, 130, 110, 170, 120, 90, 140,
  120, 150, 90, 140, 110, 170, 100, 130, 80, 160, 120, 100, 150, 110, 190, 90, 130, 110, 160, 100,
  110, 140, 80, 130, 100, 160, 120, 90, 150, 110, 70, 140, 100, 130, 90, 170, 110
];

Chart.defaults.font.family = "'Liberation Sans', Arial, Helvetica, sans-serif";
Chart.defaults.color = '#000000';
Chart.defaults.animation = false;

const X_MIN = -30.3;
const X_MAX = 399.2;

const $ = (id) => document.getElementById(id);

function toPoints(values, step, shift) {
  return values.map((v, i) => ({ x: sampleStartMin + shift + i * step, y: v }));
}

function drawLine(ctx, x1, y1, x2, y2) {
  ctx.beginPath();
  ctx.moveTo(x1, y1);
  ctx.lineTo(x2, y2);
  ctx.stroke();
}

// box around the plot with inward tick marks
const framePlugin = {
  id: 'frame',
  afterDraw(chart, args, o) {
    const { ctx, chartArea: a } = chart;
    const sx = chart.scales.x;
    const sy = chart.scales.y;
    ctx.save();
    ctx.strokeStyle = '#000';
    ctx.lineWidth = 2;
    o.xMajor.forEach(v => {
      const px = sx.getPixelForValue(v);
      drawLine(ctx, px, a.bottom, px, a.bottom - 11);
      drawLine(ctx, px, a.top, px, a.top + 3);
    });
    o.xMinor.forEach(v => {
      const px = sx.getPixelForValue(v);
      drawLine(ctx, px, a.bottom, px, a.bottom - 6);
      drawLine(ctx, px, a.top, px, a.top + 2);
    });
    o.yMajor.forEach(v => {
      const py = sy.getPixelForValue(v);
      drawLine(ctx, a.left, py, a.left + 11, py);
    });
    o.yMinor.forEach(v => {
      const py = sy.getPixelForValue(v);
      drawLine(ctx, a.left, py, a.left + 7, py);
    });
    drawLine(ctx, a.left, a.top, a.right, a.top);
    drawLine(ctx, a.right, a.top, a.right, a.bottom);
    ctx.lineWidth = 2.6;
    drawLine(ctx, a.left - 1, a.bottom, a.right, a.bottom);
    drawLine(ctx, a.left, a.top - 1, a.left, a.bottom + 1);
    ctx.restore();
  }
};

// framed legend like the original figure
const boxLegendPlugin = {
  id: 'boxLegend',
  afterDraw(chart, args, o) {
    const ctx = chart.ctx;
    ctx.save();
    ctx.fillStyle = '#fff';
    ctx.fillRect(o.left, o.top, o.width, o.height);
    ctx.strokeStyle = '#000';
    ctx.lineWidth = 1.3;
    ctx.strokeRect(o.left, o.top, o.width, o.height);
    ctx.font = o.font;
    ctx.textBaseline = 'middle';
    ctx.textAlign = 'left';
    chart.data.datasets.forEach((ds, i) => {
      const cy = o.firstRow + i * o.rowGap;
      ctx.fillStyle = ds.backgroundColor;
      ctx.beginPath();
      ctx.arc(o.dotX, cy, 2.2, 0, Math.PI * 2);
      ctx.fill();
      ctx.fillStyle = '#000';
      ctx.fillText(ds.label, o.textX, cy);
    });
    ctx.restore();
  }
};

function timeAxis(height, labelOffset, title) {
  return {
    type: 'linear',
    min: X_MIN,
    max: X_MAX,
    grid: { display: false, drawTicks: false },
    border: { display: false },
    afterBuildTicks: (s) => { s.ticks = timeTickValues.map(v => ({ value: v })); },
    afterFit: (s) => { s.height = height; },
    ticks: {
      callback: (v) => timeTickLabels[timeTickValues.indexOf(v)],
      font: { size: 23 },
      padding: 5,
      labelOffset: labelOffset,
      maxRotation: 0,
      autoSkip: false,
    },
    title: title,
  };
}

function valueAxis(max, tickValues, titleText, titlePad) {
  return {
    min: 0,
    max: max,
    grid: { display: false, drawTicks: false },
    border: { display: false },
    afterBuildTicks: (s) => { s.ticks = tickValues.map(v => ({ value: v })); },
    afterFit: (s) => { s.width = 138; },
    ticks: { callback: (v) => String(v), font: { size: 19 }, padding: 10 },
    title: { display: true, text: titleText, font: { size: 24 }, padding: { top: titlePad, bottom: 0 } },
  };
}

function scatterSet(label, values, valuesB, step, color, order) {
  return {
    label: label,
    data: toPoints(values, step, 0).concat(toPoints(valuesB, step, step / 2)),
    backgroundColor: color,
    borderColor: color,
    borderWidth: 0,
    pointRadius: 1.25,
    pointHoverRadius: 0,
    order: order,
  };
}

new Chart($('chart-a'), {
  type: 'scatter',
  data: { datasets: [scatterSet('QBER', qberValues, qberValuesB, qberStepMin, '#0000ff', 0)] },
  options: {
    responsive: false,
    layout: { padding: { left: 0, top: 9, right: 18, bottom: 0 } },
    plugins: {
      legend: { display: false },
      tooltip: { enabled: false },
      frame: { xMajor: hourMarks, xMinor: halfHourMarks, yMajor: qberTicks, yMinor: qberMinorTicks },
      boxLegend: { left: 1073, top: 15, width: 115, height: 22, dotX: 1102, textX: 1130, firstRow: 27, rowGap: 0, font: "20px 'Liberation Sans', Arial, sans-serif" },
    },
    scales: {
      x: timeAxis(48, 5, { display: false }),
      y: valueAxis(15, qberTicks, 'QBER (%)', 65),
    },
  },
  plugins: [framePlugin, boxLegendPlugin],
});

new Chart($('chart-b'), {
  type: 'scatter',
  data: {
    datasets: [
      scatterSet('Raw Key Length', rawKey, rawKeyB, keyStepMin, '#0000ff', 4),
      scatterSet('Sifted Key Length', siftedKey, siftedKeyB, keyStepMin, '#ff0000', 3),
      scatterSet('Optimum Final Key Length', optimumKey, optimumKeyB, keyStepMin, '#00ff00', 2),
      scatterSet('Actual Final Key Length', actualKey, actualKeyB, keyStepMin, '#ff00ff', 1),
    ],
  },
  options: {
    responsive: false,
    layout: { padding: { left: 0, top: 11, right: 18, bottom: 0 } },
    plugins: {
      legend: { display: false },
      tooltip: { enabled: false },
      frame: { xMajor: hourMarks, xMinor: halfHourMarks, yMajor: rateTicks, yMinor: rateMinorTicks },
      boxLegend: { left: 874, top: 17, width: 309, height: 107, dotX: 908, textX: 937, firstRow: 35, rowGap: 24.6, font: "19.5px 'Liberation Sans', Arial, sans-serif" },
    },
    scales: {
      x: timeAxis(70, -10, { display: true, text: 'Time of Day', font: { size: 24 }, padding: { top: 0, bottom: 0 } }),
      y: valueAxis(2750, rateTicks, 'Key Rates (bits/sec)', 47),
    },
  },
  plugins: [framePlugin, boxLegendPlugin],
});
</script>
</body>
</html>
